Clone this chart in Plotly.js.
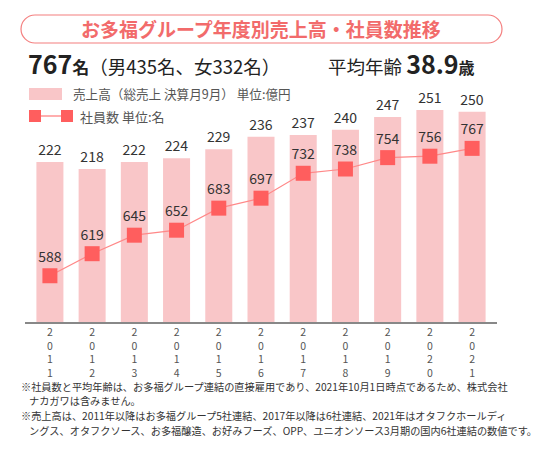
<!DOCTYPE html>
<html><head><meta charset="utf-8">
<script src="https://cdn.plot.ly/plotly-3.0.1.min.js"></script>
<style>html,body{margin:0;padding:0;background:#fff}#chart{width:547px;height:450px}</style>
</head><body><div id="chart"></div>
<script>
const years = ['2011','2012','2013','2014','2015','2016','2017','2018','2019','2020','2021'];
const sales = [222,218,222,224,229,236,237,240,247,251,250];
const employees = [588,619,645,652,683,697,732,738,754,756,767];
const tickLabels = years.map(y => y.split('').join('<br>'));
const chartTitle = 'お多福グループ年度別売上高・社員数推移';
const headLeft = '<span style="font-size:25px;font-weight:bold">767</span><span style="font-size:17px;font-weight:bold">名</span><span style="font-size:18.5px">（男435名、女332名）</span>';
const headRight = '<span style="font-size:18.5px">平均年齢 </span><span style="font-size:25px;font-weight:bold">38.9</span><span style="font-size:16px;font-weight:bold">歳</span>';
const legendSales = '売上高（総売上 決算月9月） 単位:億円';
const legendEmp = '社員数 単位:名';
const notes = [
  '※社員数と平均年齢は、お多福グループ連結の直接雇用であり、2021年10月1日時点であるため、株式会社',
  'ナカガワは含みません。',
  '※売上高は、2011年以降はお多福グループ5社連結、2017年以降は6社連結、2021年はオタフクホールディ',
  'ングス、オタフクソース、お多福醸造、お好みフーズ、OPP、ユニオンソース3月期の国内6社連結の数値です。'
];

const L = 25, R = 497, T = 95, B = 322;
const W = R - L, H = B - T;
const fx = x => (x - L) / W;
const fy = y => (B - y) / H;
const P = (x, y) => fx(x).toFixed(5) + ',' + fy(y).toFixed(5);

const FONT = '"Noto Sans CJK JP", "Noto Sans", sans-serif';
const coral = '#f26b6b';

const x0 = 21, x1 = 502, y0 = 15, y1 = 43, r = 14, k = r * 0.5523;
const pill = 'M ' + P(x0 + r, y0) + ' L ' + P(x1 - r, y0) +
  ' C ' + P(x1 - r + k, y0) + ' ' + P(x1, y0 + r - k) + ' ' + P(x1, y0 + r) +
  ' C ' + P(x1, y0 + r + k) + ' ' + P(x1 - r + k, y1) + ' ' + P(x1 - r, y1) +
  ' L ' + P(x0 + r, y1) +
  ' C ' + P(x0 + r - k, y1) + ' ' + P(x0, y0 + r + k) + ' ' + P(x0, y0 + r) +
  ' C ' + P(x0, y0 + r - k) + ' ' + P(x0 + r - k, y0) + ' ' + P(x0 + r, y0) + ' Z';

const shapes = [
  {type:'path', xref:'paper', yref:'paper', path: pill, line:{color:'#f47f7f', width:1.2}, fillcolor:'rgba(0,0,0,0)'},
  {type:'rect', xref:'paper', yref:'paper', x0:fx(29), x1:fx(62), y0:fy(88), y1:fy(100), line:{width:0}, fillcolor:'#f9c6c8'},
  {type:'line', xref:'paper', yref:'paper', x0:fx(35), x1:fx(67), y0:fy(116), y1:fy(116), line:{color:'#f77', width:1.2}},
  {type:'rect', xref:'paper', yref:'paper', x0:fx(29), x1:fx(41), y0:fy(110), y1:fy(122), line:{width:0}, fillcolor:'#ff5e5e'},
  {type:'rect', xref:'paper', yref:'paper', x0:fx(61), x1:fx(73), y0:fy(110), y1:fy(122), line:{width:0}, fillcolor:'#ff5e5e'}
];

const ann = (x, y, text, size, color, anchor) => ({
  xref:'paper', yref:'paper', x: fx(x), y: fy(y), text: text, showarrow:false,
  xanchor: anchor || 'left', yanchor:'middle', align:'left', borderpad:0,
  font:{family:FONT, size:size, color:color}
});

const annotations = [
  ann(261, 29, '<b>' + chartTitle + '</b>', 19, coral, 'center'),
  ann(27, 63, headLeft, 16, '#222'),
  ann(327, 63, headRight, 18, '#222'),
  ann(72, 94, legendSales, 12.6, '#555'),
  ann(79, 116, legendEmp, 13, '#555'),
  ann(20, 386, notes[0], 10.2, '#333'),
  ann(28, 400.8, notes[1], 10.2, '#333'),
  ann(20, 415.6, notes[2], 10.2, '#333'),
  ann(28, 430.4, notes[3], 10.2, '#333')
];

const traces = [
  {type:'bar', x: years, y: sales, width: 0.64, marker:{color:'#f9c6c8', line:{width:0}},
   text: sales.map(String), textposition:'outside', cliponaxis:false,
   textfont:{family:FONT, size:14, color:'#333'}, hoverinfo:'skip', yaxis:'y'},
  {type:'scatter', mode:'lines+markers+text', x: years, y: employees, yaxis:'y2',
   line:{color:'#f88', width:1.2}, marker:{symbol:'square', size:15, color:'#ff5e5e'},
   text: employees.map(String), textposition:'top center', cliponaxis:false,
   textfont:{family:FONT, size:14, color:'#333'}, hoverinfo:'skip'}
];

const layout = {
  width:547, height:450, margin:{l:L, r:547-R, t:T, b:450-B},
  paper_bgcolor:'#fff', plot_bgcolor:'#fff', showlegend:false,
  font:{family:FONT},
  xaxis:{type:'category', range:[-0.59, 10.59], showline:true, linecolor:'#888', linewidth:1.5,
    tickmode:'array', tickvals: years, ticktext: tickLabels, ticks:'', showgrid:false,
    tickfont:{family:FONT, size:10.5, color:'#555'}, fixedrange:true},
  yaxis:{range:[132.8, 259.3], showgrid:false, zeroline:false, showticklabels:false, showline:false},
  yaxis2:{range:[523, 842], overlaying:'y', showgrid:false, zeroline:false, showticklabels:false, showline:false},
  shapes: shapes, annotations: annotations
};

Plotly.newPlot('chart', traces, layout, {staticPlot:true, displayModeBar:false});
</script></body></html>
